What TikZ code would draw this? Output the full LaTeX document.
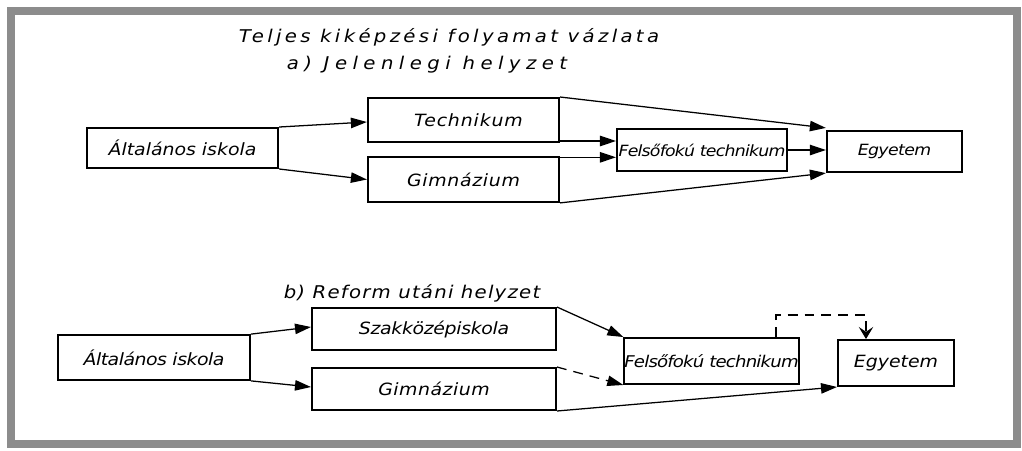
\documentclass[tikz,border=0pt]{standalone}
\usepackage{fontspec}
\newfontfamily\drawfont[FakeStretch=1.12]{DejaVu Sans}
\newcommand\sperr[3][12]{{\fontsize{#1}{#1}\selectfont\addfontfeature{LetterSpace=#2}#3}}
\usetikzlibrary{arrows.meta}
\tikzset{
  box/.style={draw, line width=1.4pt, inner sep=0pt, font=\drawfont\itshape\fontsize{12}{14}\selectfont},
  label/.style={font=\drawfont\itshape\fontsize{12.5}{15}\selectfont, inner sep=0pt},
  flow/.style={line width=0.9pt, -{Triangle[length=4mm,width=2.6mm]}},
  dashline/.style={dash pattern=on 7pt off 5pt},
}

\begin{document}
\begin{tikzpicture}[x=0.025cm, y=-0.025cm]
        \useasboundingbox (0,0) rectangle (1022,450);
        \fill[white] (0,0) rectangle (1022,450);
        \draw[gray!90, line width=0.22cm] (11,11) rectangle (1017,444);

        % titles
        \node[label] (title) at (449,37) {\sperr[12.5]{19}{Teljes kiképzési folyamat vázlata}};
        \node[label] (suba) at (427,65) {\sperr[12.5]{31}{a) Jelenlegi helyzet}};
        \node[label] (subb) at (412,293) {\sperr[12.5]{7}{b) Reform utáni helyzet}};

        % a) present state
        \node[box, minimum width=4.78cm, minimum height=1.0cm] (alta) at (182.5,148) {\sperr{0}{Általános iskola}\hspace{0.5cm}};
        \node[box, minimum width=4.78cm, minimum height=1.1cm] (techa) at (463.5,120) {\hspace{0.25cm}\sperr{5}{Technikum}};
        \node[box, minimum width=4.78cm, minimum height=1.12cm] (gimna) at (463.5,179.5) {\sperr{4}{Gimnázium}};
        \node[box, minimum width=4.25cm, minimum height=1.05cm] (felsa) at (702,150) {\sperr[11]{-5}{Felsőfokú technikum}};
        \node[box, minimum width=3.38cm, minimum height=1.03cm] (egya) at (894.5,151.5) {\sperr[11]{-4}{Egyetem}};

        \draw[flow] (alta.north east) -- ([yshift=-0.05cm]techa.west);
        \draw[flow] (alta.south east) -- (gimna.west);
        \draw[flow] ([yshift=0.05cm]techa.south east) -- ([yshift=0.05cm]techa.south east -| felsa.west);
        \draw[flow] ([yshift=-0.03cm]gimna.north east) -- ([yshift=-0.03cm]gimna.north east -| felsa.west);
        \draw[flow] (techa.north east) -- ([yshift=0.05cm]egya.north west);
        \draw[flow] (felsa.east) -- (felsa.east -| egya.west);
        \draw[flow] (gimna.south east) -- (egya.south west);

        % b) after the reform
        \node[box, minimum width=4.8cm, minimum height=1.12cm] (altb) at (154,357.5) {\sperr{-3}{Általános iskola}};
        \node[box, minimum width=6.1cm, minimum height=1.05cm] (szakb) at (434,329) {\sperr{-2}{Szakközépiskola}};
        \node[box, minimum width=6.1cm, minimum height=1.05cm] (gimnb) at (434,389) {\sperr{3}{Gimnázium}};
        \node[box, minimum width=4.28cm, minimum height=1.15cm] (felsb) at (711.5,361) {\sperr[11.5]{-5}{Felsőfokú technikum}};
        \node[box, minimum width=2.9cm, minimum height=1.15cm] (egyb) at (896,363) {\sperr{0}{Egyetem}};

        \draw[flow] (altb.north east) -- ([yshift=0.05cm]szakb.west);
        \draw[flow] (altb.south east) -- ([yshift=0.05cm]gimnb.west);
        \draw[flow] (szakb.north east) -- (felsb.north west);
        \draw[flow, dashline] (gimnb.north east) -- (felsb.south west);
        \draw[flow] (gimnb.south east) -- (egyb.south west);
        \draw[dashline, line width=0.9pt, -{Stealth[length=3mm,width=3.6mm,inset=1.2mm]}] ([xshift=1.61cm]felsb.north) -- ++(0,0.55cm) -| ([xshift=-0.75cm]egyb.north);
\end{tikzpicture}
\end{document}
